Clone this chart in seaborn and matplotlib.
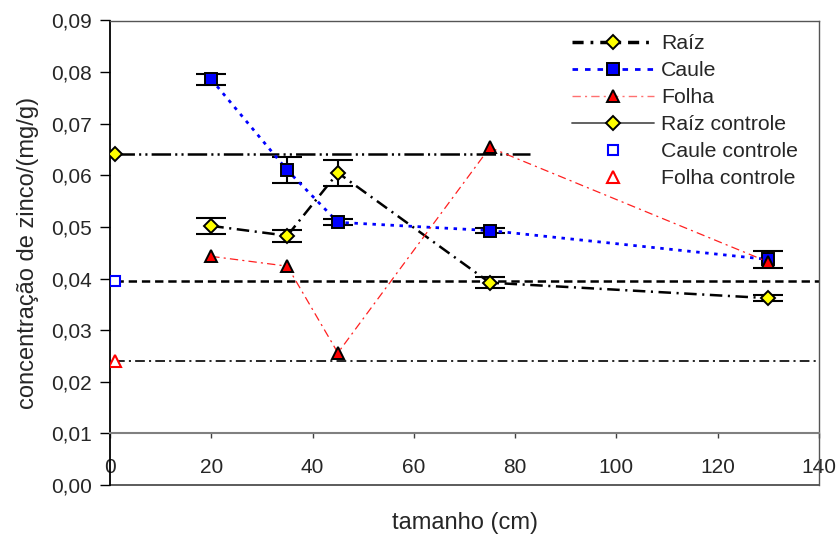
import matplotlib
matplotlib.use("Agg")
import matplotlib.pyplot as plt
from matplotlib.lines import Line2D
from matplotlib.ticker import FuncFormatter, MultipleLocator
import seaborn as sns
import pandas as pd

# Zinc concentration (mg/g) by plant size (cm)
tamanho = [20, 35, 45, 75, 130]
raiz = [0.0502, 0.0483, 0.0605, 0.0392, 0.0362]
raiz_err = [0.0015, 0.0012, 0.0025, 0.0011, 0.0006]
caule = [0.0786, 0.0610, 0.0509, 0.0493, 0.0437]
caule_err = [0.0011, 0.0025, 0.0006, 0.0004, 0.0017]
folha = [0.0443, 0.0424, 0.0256, 0.0654, 0.0432]

# Control plants
controle_x = 1
raiz_controle = 0.0641
caule_controle = 0.0395
folha_controle = 0.0240
raiz_controle_fim = 83  # end of the root control reference line

series_names = ["Raíz", "Caule", "Folha", "Raíz controle", "Caule controle", "Folha controle"]

sns.set_theme(style="white")
plt.rcParams["font.family"] = ["Liberation Sans", "DejaVu Sans"]
plt.rcParams["lines.scale_dashes"] = False

fig = plt.figure(figsize=(8.4, 5.41), dpi=100)
ax = fig.add_axes([110 / 840, 1 - 485 / 541, 709 / 840, 464.5 / 541])

df = pd.DataFrame({"tamanho": tamanho, "raiz": raiz, "caule": caule, "folha": folha})

MEW = 1.4

# Reference lines for the controls
ax.plot([controle_x, raiz_controle_fim], [raiz_controle, raiz_controle], color="black",
        lw=1.8, dashes=(14, 3, 1.5, 3, 1.5, 3), zorder=2)
ax.plot([controle_x, 140], [caule_controle, caule_controle], color="black",
        lw=1.8, dashes=(6, 3.5), zorder=2)
ax.plot([controle_x, 140], [folha_controle, folha_controle], color="black",
        lw=1.2, dashes=(7, 3, 1.5, 3), zorder=2)

# Error bars
ax.errorbar(tamanho, raiz, yerr=raiz_err, fmt="none", ecolor="black",
            elinewidth=1.5, capsize=11, capthick=1.5, zorder=3)
ax.errorbar(tamanho, caule, yerr=caule_err, fmt="none", ecolor="black",
            elinewidth=1.5, capsize=11, capthick=1.5, zorder=3)

# Measured series
sns.lineplot(data=df, x="tamanho", y="raiz", ax=ax, color="black", lw=1.8,
             linestyle=(0, (9, 4, 1.5, 4)), marker="D", markersize=6.8,
             markerfacecolor="#FFFF00", markeredgecolor="black", markeredgewidth=MEW,
             legend=False, zorder=4)
sns.lineplot(data=df, x="tamanho", y="caule", ax=ax, color="#0000FF", lw=2,
             linestyle=(0, (2.5, 4)), marker="s", markersize=8,
             markerfacecolor="#0000FF", markeredgecolor="black", markeredgewidth=MEW,
             legend=False, zorder=4)
sns.lineplot(data=df, x="tamanho", y="folha", ax=ax, color="#FF2020", lw=0.9,
             linestyle=(0, (6, 3, 1.5, 3)), marker="^", markersize=9.2,
             markerfacecolor="#FF0000", markeredgecolor="black", markeredgewidth=MEW,
             legend=False, zorder=5)

# Control points
ctrl = pd.DataFrame({"x": [controle_x], "r": [raiz_controle], "c": [caule_controle], "f": [folha_controle]})
sns.lineplot(data=ctrl, x="x", y="r", ax=ax, marker="D", markersize=6.8, lw=0,
             markerfacecolor="#FFFF00", markeredgecolor="black", markeredgewidth=MEW,
             legend=False, zorder=6)
sns.lineplot(data=ctrl, x="x", y="c", ax=ax, marker="s", markersize=7.5, lw=0,
             markerfacecolor="white", markeredgecolor="#0000FF", markeredgewidth=1.5,
             legend=False, zorder=6)
sns.lineplot(data=ctrl, x="x", y="f", ax=ax, marker="^", markersize=9.2, lw=0,
             markerfacecolor="white", markeredgecolor="#FF0000", markeredgewidth=1.5,
             legend=False, zorder=6)

# Axes
ax.set_xlim(0, 140)
ax.set_ylim(0, 0.09)
ax.xaxis.set_major_locator(MultipleLocator(20))
ax.yaxis.set_major_locator(MultipleLocator(0.01))
ax.yaxis.set_major_formatter(FuncFormatter(lambda v, p: f"{v:.2f}".replace(".", ",")))
ax.xaxis.set_major_formatter(FuncFormatter(lambda v, p: f"{v:.0f}"))

ax.spines["bottom"].set_position(("data", 0.01))
ax.spines["bottom"].set_color("#808080")
ax.spines["bottom"].set_linewidth(1.5)
ax.spines["left"].set_color("black")
ax.spines["left"].set_linewidth(1.3)
for s in ("top", "right"):
    ax.spines[s].set_color("#555555")
    ax.spines[s].set_linewidth(1.0)
ax.plot([0, 140], [0, 0], color="#404040", lw=1.2, clip_on=False, zorder=1)

ax.tick_params(axis="y", direction="out", length=7, width=1, color="black",
               pad=6, labelsize=15, left=True)
ax.tick_params(axis="x", direction="out", length=3.6, width=1, color="#404040",
               pad=14, labelsize=15, bottom=True)

ax.set_xlabel("tamanho (cm)", fontsize=17, va="center")
ax.xaxis.set_label_coords(0.5, -0.082)
ax.set_ylabel("concentração de zinco/(mg/g)", fontsize=17, va="center")
ax.yaxis.set_label_coords(-0.1157, 0.5)

# Legend
handles = [
    Line2D([], [], color="black", lw=2.5, linestyle=(0, (8, 5, 2, 5)), marker="D",
           markersize=6.8, markerfacecolor="#FFFF00", markeredgecolor="black", markeredgewidth=MEW),
    Line2D([], [], color="#0000FF", lw=2, linestyle=(0, (4, 5)), marker="s",
           markersize=8, markerfacecolor="#0000FF", markeredgecolor="black", markeredgewidth=MEW),
    Line2D([], [], color="#FF7070", lw=1, linestyle=(0, (6, 3, 1.5, 3)), marker="^",
           markersize=9.2, markerfacecolor="#FF0000", markeredgecolor="black", markeredgewidth=MEW),
    Line2D([], [], color="#555555", lw=1.3, linestyle="-", marker="D",
           markersize=6.8, markerfacecolor="#FFFF00", markeredgecolor="black", markeredgewidth=MEW),
    Line2D([], [], lw=0, marker="s", markersize=7.5, markerfacecolor="white",
           markeredgecolor="#0000FF", markeredgewidth=1.5),
    Line2D([], [], lw=0, marker="^", markersize=9.2, markerfacecolor="white",
           markeredgecolor="#FF0000", markeredgewidth=1.5),
]
fig.legend(handles, series_names, loc="upper left", bbox_to_anchor=(572 / 840, 1 - 34 / 541),
           frameon=False, fontsize=15.3, handlelength=3.85, handletextpad=0.35,
           labelspacing=0.38, borderpad=0, borderaxespad=0)

fig.savefig("out.png", dpi=100)
